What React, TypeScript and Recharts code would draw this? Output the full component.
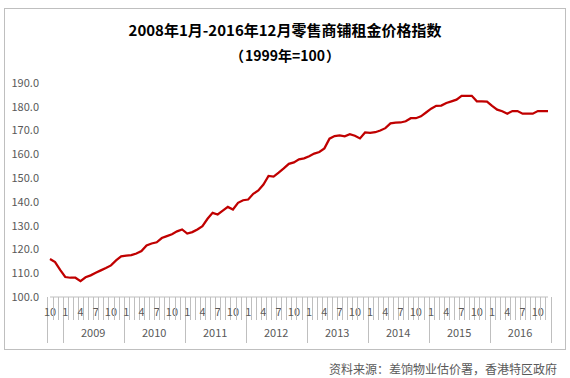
import { LineChart, Line, XAxis, YAxis } from "recharts";

// 零售商铺租金价格指数 (1999年=100), monthly, Oct 2008 - Dec 2016
const years = [2008, 2009, 2010, 2011, 2012, 2013, 2014, 2015, 2016];
const firstMonth2008 = 10;

const idx2008 = [116.0, 114.7, 111.4];
const idx2009 = [108.4, 108.1, 108.1, 106.7, 108.3, 109.1, 110.2, 111.2, 112.2, 113.3, 115.4, 117.1];
const idx2010 = [117.4, 117.6, 118.3, 119.3, 121.7, 122.5, 123.0, 124.8, 125.6, 126.4, 127.6, 128.4];
const idx2011 = [126.7, 127.3, 128.4, 129.8, 132.9, 135.4, 134.7, 136.3, 137.9, 136.8, 139.6, 140.7];
const idx2012 = [141.0, 143.4, 144.8, 147.3, 150.9, 150.6, 152.3, 154.1, 156.0, 156.6, 157.9, 158.3];
const idx2013 = [159.2, 160.3, 161.0, 162.5, 166.6, 167.7, 168.0, 167.6, 168.5, 167.8, 166.7, 169.2];
const idx2014 = [169.0, 169.3, 170.0, 171.0, 173.0, 173.3, 173.4, 173.9, 175.2, 175.2, 176.0, 177.6];
const idx2015 = [179.2, 180.4, 180.5, 181.6, 182.3, 183.0, 184.6, 184.6, 184.6, 182.3, 182.3, 182.2];
const idx2016 = [180.4, 178.8, 178.1, 177.1, 178.2, 178.2, 177.1, 177.1, 177.1, 178.2, 178.2, 178.2];

const valuesByYear = [idx2008, idx2009, idx2010, idx2011, idx2012, idx2013, idx2014, idx2015, idx2016];
const labelMonths = [1, 4, 7, 10];
const yTicks = [100, 110, 120, 130, 140, 150, 160, 170, 180, 190];

const data = valuesByYear.flatMap((vals, yi) =>
  vals.map((v, k) => {
    const month = yi === 0 ? firstMonth2008 + k : k + 1;
    return { key: `${years[yi]}-${month}`, year: years[yi], month, value: v };
  })
);

const W = 570;
const H = 378;
const M = { top: 83, right: 22, bottom: 31, left: 10 };
const Y_AXIS_W = 40;
const PLOT_W = W - M.left - Y_AXIS_W - M.right;
const BAND = PLOT_W / data.length;

const FONT = '"Noto Sans CJK SC", "Noto Sans", sans-serif';
const GRID = "#bfbfbf";
const TXT = "#595959";

const MonthTick = (props: any) => {
  const { x, y, payload } = props;
  const i = payload.index;
  const d = data[i];
  if (!d) return null;
  const left = Math.round(x - BAND / 2) + 0.5;
  const yearEdge = i === 0 || d.month === 1;
  return (
    <g>
      <line x1={left} x2={left} y1={y} y2={y + (yearEdge ? 46 : 23)} stroke={GRID} />
      {i === data.length - 1 && (
        <line
          x1={Math.round(x + BAND / 2) + 0.5}
          x2={Math.round(x + BAND / 2) + 0.5}
          y1={y}
          y2={y + 46}
          stroke={GRID}
        />
      )}
      {labelMonths.includes(d.month) && (
        <text x={x} y={y + 16} textAnchor="middle" dominantBaseline="middle" fontSize={11} fill={TXT} fontFamily={FONT}>
          {d.month}
        </text>
      )}
      {d.month === 7 && (
        <text x={x - BAND / 2} y={y + 37} textAnchor="middle" dominantBaseline="middle" fontSize={11} fill={TXT} fontFamily={FONT}>
          {d.year}
        </text>
      )}
    </g>
  );
};

const paren = { display: "inline-block", width: 16, textAlign: "center" as const };

export default function App() {
  return (
    <div style={{ position: "absolute", left: 0, top: 0, width: W, height: H, background: "#fff", fontFamily: FONT }}>
      <div
        style={{
          position: "absolute",
          left: 4,
          top: 8,
          width: 562,
          height: 342,
          boxSizing: "border-box",
          border: `1px solid ${GRID}`,
        }}
      />
      <div style={{ position: "absolute", left: 4, width: 562, top: 19, textAlign: "center", fontSize: 15, fontWeight: "bold", color: "#000", lineHeight: "22px" }}>
        2008年1月-2016年12月零售商铺租金价格指数
      </div>
      <div style={{ position: "absolute", left: 4, width: 562, top: 45, textAlign: "center", fontSize: 14, fontWeight: "bold", color: "#000", lineHeight: "20px" }}>
        <span style={paren}>（</span>1999年=100<span style={paren}>）</span>
      </div>
      <div style={{ position: "absolute", left: 0, top: 359, width: 557, textAlign: "right", fontSize: 12, color: TXT, lineHeight: "20px" }}>
        资料来源：差饷物业估价署，香港特区政府
      </div>
      <div style={{ position: "absolute", left: 0, top: 0 }}>
        <LineChart width={W} height={H} data={data} margin={M}>
          <XAxis
            dataKey="key"
            interval={0}
            height={50}
            tickSize={0}
            tickMargin={0}
            tickLine={false}
            axisLine={{ stroke: GRID }}
            tick={MonthTick}
          />
          <YAxis
            width={Y_AXIS_W}
            domain={[100, 190]}
            ticks={yTicks}
            interval={0}
            axisLine={false}
            tickLine={false}
            tickSize={6}
            tickMargin={5}
            tickFormatter={(v: number) => v.toFixed(1)}
            tick={{ fontSize: 11, fill: TXT, fontFamily: FONT }}
          />
          <Line
            type="linear"
            dataKey="value"
            stroke="#C00000"
            strokeWidth={2.25}
            dot={false}
            isAnimationActive={false}
          />
        </LineChart>
      </div>
    </div>
  );
}
